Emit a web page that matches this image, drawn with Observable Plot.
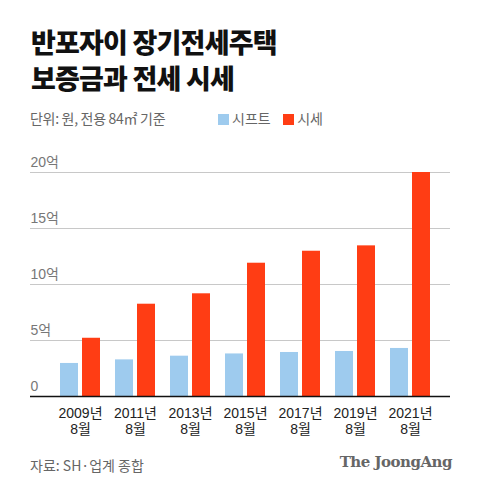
<!DOCTYPE html>
<html>
<head>
<meta charset="utf-8">
<script src="https://cdn.jsdelivr.net/npm/d3@7"></script>
<script src="https://cdn.jsdelivr.net/npm/@observablehq/plot@0.6"></script>
<style>
  body { margin: 0; background: #fff; }
  #wrap { position: relative; width: 480px; height: 494px; font-family: "Liberation Sans", "Noto Sans CJK KR", sans-serif; }
  #title { position: absolute; left: 31px; top: 24px; font-family: "Noto Sans CJK KR", sans-serif; font-weight: 900; font-size: 27px; line-height: 36px; color: #111; letter-spacing: -0.8px; }
  #sub { position: absolute; left: 30px; top: 108px; font-size: 14px; color: #666; font-family: "Noto Sans CJK KR", sans-serif; letter-spacing: -0.3px; }
  #legend { position: absolute; left: 218px; top: 108px; font-size: 14px; color: #666; font-family: "Noto Sans CJK KR", sans-serif; }
  #legend span.sw { display: inline-block; width: 11px; height: 11px; margin-right: 3px; vertical-align: -1px; }
  #chart { position: absolute; left: 0; top: 150px; }
  #src { position: absolute; left: 30px; top: 455px; font-size: 14px; color: #666; font-family: "Noto Sans CJK KR", sans-serif; }
  #logo { position: absolute; right: 28px; top: 453px; font-family: "DejaVu Serif", serif; font-weight: bold; font-size: 15px; color: #666; letter-spacing: -0.5px; }
</style>
</head>
<body>
<div id="wrap">
  <div id="title">반포자이 장기전세주택<br>보증금과 전세 시세</div>
  <div id="sub">단위: 원, 전용 84㎡ 기준</div>
  <div id="legend"><span class="sw" style="background:#9ecbee"></span>시프트&nbsp;&nbsp;&nbsp;&nbsp;<span class="sw" style="background:#ff3d14"></span>시세</div>
  <div id="chart"></div>
  <div id="src">자료: SH·업계 종합</div>
  <div id="logo">The JoongAng</div>
</div>
<script>
const years = ["2009년\n8월", "2011년\n8월", "2013년\n8월", "2015년\n8월", "2017년\n8월", "2019년\n8월", "2021년\n8월"];
const shift = [2.95, 3.27, 3.6, 3.8, 3.93, 4.02, 4.29];   // 시프트 (억 원)
const market = [5.2, 8.24, 9.17, 11.9, 12.97, 13.45, 20];  // 시세 (억 원)
const yTicks = [0, 5, 10, 15, 20];

const rows = years.map((y, i) => ({year: y, shift: shift[i], market: market[i]}));

const chart = Plot.plot({
  width: 480,
  height: 290,
  marginLeft: 30,
  marginRight: 30,
  marginTop: 22,
  marginBottom: 44,
  style: {fontFamily: "Liberation Sans, Noto Sans CJK KR, sans-serif", fontSize: "14px", background: "#fff"},
  x: {domain: years, paddingInner: 15 / 55, paddingOuter: 50 / 110, align: 0.6, label: null},
  y: {domain: [0, 20], label: null},
  marks: [
    Plot.ruleY(yTicks.filter(d => d > 0), {stroke: "#c8c8c8", strokeWidth: 1}),
    Plot.barY(rows, {x: "year", y: "shift", fill: "#9ecbee", insetRight: 22}),
    Plot.barY(rows, {x: "year", y: "market", fill: "#ff3d14", insetLeft: 22}),
    Plot.ruleY([0], {stroke: "#111", strokeWidth: 1.3}),
    Plot.axisY({ticks: yTicks, anchor: "left", tickSize: 0, tickPadding: 0, textAnchor: "start", dy: -10,
      tickFormat: d => d === 0 ? "0" : d + "억", fill: "#777", fontSize: 14}),
    Plot.axisX({tickSize: 0, tickPadding: 11, fill: "#222", fontSize: 14, lineHeight: 1.1})
  ]
});

document.querySelector("#chart").append(chart);
</script>
</body>
</html>
